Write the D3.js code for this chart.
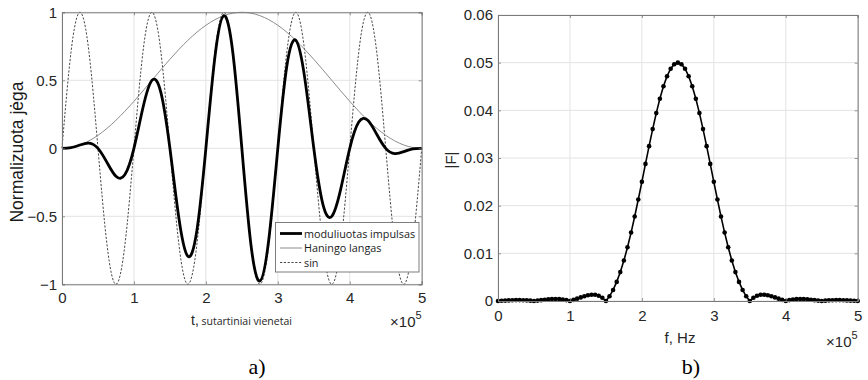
<!DOCTYPE html>
<html>
<head>
<meta charset="utf-8">
<script src="https://cdn.jsdelivr.net/npm/d3@7"></script>
<style>
  html, body { margin: 0; padding: 0; background: #fff; }
  svg { display: block; }
  text { font-family: "Liberation Sans", Arial, Helvetica, sans-serif; }
</style>
</head>
<body>
<svg id="chart" width="868" height="380"></svg>
<script>
// ---------- DATA (panel a): time in units of 1e5 ----------
const tVals = [0, 0.125, 0.25, 0.375, 0.5, 0.625, 0.75, 0.875, 1, 1.125, 1.25, 1.375, 1.5, 1.625, 1.75, 1.875,
  2, 2.125, 2.25, 2.375, 2.5, 2.625, 2.75, 2.875, 3, 3.125, 3.25, 3.375, 3.5, 3.625, 3.75, 3.875,
  4, 4.125, 4.25, 4.375, 4.5, 4.625, 4.75, 4.875, 5];
const sinVals = [0, 0.7071, 1, 0.7071, 0, -0.7071, -1, -0.7071,
  0, 0.7071, 1, 0.7071, 0, -0.7071, -1, -0.7071,
  0, 0.7071, 1, 0.7071, 0, -0.7071, -1, -0.7071,
  0, 0.7071, 1, 0.7071, 0, -0.7071, -1, -0.7071,
  0, 0.7071, 1, 0.7071, 0, -0.7071, -1, -0.7071, 0];
const hannVals = [0, 0.00616, 0.02447, 0.0545, 0.09549, 0.14645, 0.20611, 0.273, 0.34549, 0.42178,
  0.5, 0.57822, 0.65451, 0.727, 0.79389, 0.85355, 0.90451, 0.9455, 0.97553, 0.99384,
  1, 0.99384, 0.97553, 0.9455, 0.90451, 0.85355, 0.79389, 0.727, 0.65451, 0.57822,
  0.5, 0.42178, 0.34549, 0.273, 0.20611, 0.14645, 0.09549, 0.0545, 0.02447, 0.00616, 0];
const pulseVals = [0, 0.00436, 0.02447, 0.03854, 0, -0.10355, -0.20611, -0.19304, 0, 0.29824,
  0.5, 0.40886, 0, -0.51405, -0.79389, -0.60355, 0, 0.66857, 0.97553, 0.70274,
  0, -0.70274, -0.97553, -0.66857, 0, 0.60355, 0.79389, 0.51405, 0, -0.40886,
  -0.5, -0.29824, 0, 0.19304, 0.20611, 0.10355, 0, -0.03854, -0.02447, -0.00436, 0];
const seriesNamesA = ["moduliuotas impulsas", "Haningo langas", "sin"];
const xTicksA = [0, 1, 2, 3, 4, 5];
const yTicksA = [-1, -0.5, 0, 0.5, 1];

// ---------- DATA (panel b): frequency in units of 1e5 Hz ----------
const fVals = [0, 0.05, 0.1, 0.15, 0.2, 0.25, 0.3, 0.35, 0.4, 0.45,
  0.5, 0.55, 0.6, 0.65, 0.7, 0.75, 0.8, 0.85, 0.9, 0.95,
  1, 1.05, 1.1, 1.15, 1.2, 1.25, 1.3, 1.35, 1.4, 1.45,
  1.5, 1.55, 1.6, 1.65, 1.7, 1.75, 1.8, 1.85, 1.9, 1.95,
  2, 2.05, 2.1, 2.15, 2.2, 2.25, 2.3, 2.35, 2.4, 2.45,
  2.5,
  2.55, 2.6, 2.65, 2.7, 2.75, 2.8, 2.85, 2.9, 2.95, 3,
  3.05, 3.1, 3.15, 3.2, 3.25, 3.3, 3.35, 3.4, 3.45, 3.5,
  3.55, 3.6, 3.65, 3.7, 3.75, 3.8, 3.85, 3.9, 3.95, 4,
  4.05, 4.1, 4.15, 4.2, 4.25, 4.3, 4.35, 4.4, 4.45, 4.5,
  4.55, 4.6, 4.65, 4.7, 4.75, 4.8, 4.85, 4.9, 4.95, 5];
const fMag = [0, 0.000044, 0.000089, 0.00013, 0.000163, 0.000184, 0.000188, 0.000171, 0.000134, 0.000076,
  0, 0.000089, 0.000183, 0.000274, 0.000352, 0.000404, 0.000422, 0.000395, 0.000317, 0.000185,
  0, 0.000229, 0.000489, 0.000758, 0.001011, 0.001213, 0.001325, 0.001305, 0.001108, 0.000687,
  0, 0.000992, 0.00232, 0.004008, 0.006065, 0.008489, 0.011263, 0.014355, 0.017718, 0.021291,
  0.025, 0.028761, 0.032483, 0.036067, 0.039418, 0.042442, 0.04505, 0.047165, 0.048724, 0.049679,
  0.05,
  0.049679, 0.048724, 0.047165, 0.04505, 0.042442, 0.039418, 0.036067, 0.032483, 0.028761, 0.025,
  0.021291, 0.017718, 0.014355, 0.011263, 0.008489, 0.006065, 0.004008, 0.00232, 0.000992, 0,
  0.000687, 0.001108, 0.001305, 0.001325, 0.001213, 0.001011, 0.000758, 0.000489, 0.000229, 0,
  0.000185, 0.000317, 0.000395, 0.000422, 0.000404, 0.000352, 0.000274, 0.000183, 0.000089, 0,
  0.000076, 0.000134, 0.000171, 0.000188, 0.000184, 0.000163, 0.00013, 0.000089, 0.000044, 0];
const xTicksB = [0, 1, 2, 3, 4, 5];
const yTicksB = [0, 0.01, 0.02, 0.03, 0.04, 0.05, 0.06];

// ---------- DRAWING ----------
const svg = d3.select("#chart");
const AX = "#262626", GRID = "#e3e3e3", BOX = "#7a7a7a";

function frame(g, x, y, xt, yt) {
  const [x0, x1] = x.range(), [y0, y1] = y.range();
  g.append("g").selectAll("line").data(xt).join("line")
    .attr("x1", d => x(d)).attr("x2", d => x(d)).attr("y1", y0).attr("y2", y1)
    .attr("stroke", GRID).attr("stroke-width", 1);
  g.append("g").selectAll("line").data(yt).join("line")
    .attr("y1", d => y(d)).attr("y2", d => y(d)).attr("x1", x0).attr("x2", x1)
    .attr("stroke", GRID).attr("stroke-width", 1);
}
function axes(g, x, y, xt, yt, yfmt, xLabelDy) {
  const [x0, x1] = x.range(), [y0, y1] = y.range();
  const xa = g.append("g").attr("transform", `translate(0,${y0})`)
    .call(d3.axisBottom(x).tickValues(xt).tickFormat(d3.format("d")).tickSize(-3).tickPadding(xLabelDy));
  const xb = g.append("g").attr("transform", `translate(0,${y1})`)
    .call(d3.axisTop(x).tickValues(xt).tickFormat("").tickSize(-3));
  const ya = g.append("g").attr("transform", `translate(${x0},0)`)
    .call(d3.axisLeft(y).tickValues(yt).tickFormat(yfmt).tickSize(-3).tickPadding(5));
  const yb = g.append("g").attr("transform", `translate(${x1},0)`)
    .call(d3.axisRight(y).tickValues(yt).tickFormat("").tickSize(-3));
  [xa, xb, ya, yb].forEach(a => {
    a.select(".domain").attr("stroke", BOX).attr("stroke-width", 1);
    a.selectAll(".tick line").attr("stroke", BOX).attr("stroke-width", 0.8);
    a.selectAll("text").attr("fill", AX).style("font-size", "15px")
      .style("font-family", "'Liberation Sans', Arial, sans-serif");
  });
}

// ----- Panel a -----
const xA = d3.scaleLinear().domain([0, 5]).range([62, 421.7]);
const yA = d3.scaleLinear().domain([-1, 1]).range([284.3, 12.3]);
const gA = svg.append("g");
frame(gA, xA, yA, xTicksA, yTicksA);

const ptsSin = tVals.map((t, i) => [t, sinVals[i]]);
const ptsHann = tVals.map((t, i) => [t, hannVals[i]]);
const ptsPulse = tVals.map((t, i) => [t, pulseVals[i]]);
const lineA = d3.line().x(d => xA(d[0])).y(d => yA(d[1])).curve(d3.curveNatural);

gA.append("path").datum(ptsSin).attr("d", lineA).attr("fill", "none")
  .attr("stroke", "#333").attr("stroke-width", 0.9).attr("stroke-dasharray", "2.2,1.6");
gA.append("path").datum(ptsHann).attr("d", lineA).attr("fill", "none")
  .attr("stroke", "#8c8c8c").attr("stroke-width", 1);
gA.append("path").datum(ptsPulse).attr("d", lineA).attr("fill", "none")
  .attr("stroke", "#000").attr("stroke-width", 2.8).attr("stroke-linejoin", "round");

axes(gA, xA, yA, xTicksA, yTicksA, d => d3.format("")(d), 8);

// legend
const lg = gA.append("g");
lg.append("rect").attr("x", 275.5).attr("y", 222.5).attr("width", 143.5).attr("height", 49.5)
  .attr("fill", "#fff").attr("stroke", "#707070").attr("stroke-width", 0.9);
const legStyles = [
  { stroke: "#000", w: 2.8, dash: null },
  { stroke: "#8c8c8c", w: 1, dash: null },
  { stroke: "#333", w: 0.9, dash: "2.2,1.6" }
];
const legY = [233.5, 248, 262.5];
seriesNamesA.forEach((name, i) => {
  const l = lg.append("line").attr("x1", 280).attr("x2", 302).attr("y1", legY[i]).attr("y2", legY[i])
    .attr("stroke", legStyles[i].stroke).attr("stroke-width", legStyles[i].w);
  if (legStyles[i].dash) l.attr("stroke-dasharray", legStyles[i].dash);
  lg.append("text").attr("x", 304).attr("y", legY[i] + 4).text(name)
    .style("font-family", "'Open Sans', sans-serif").style("font-size", "10.8px").attr("fill", "#1a1a1a");
});

// axis labels a
const xlA = gA.append("text").attr("x", 191).attr("y", 325).attr("fill", AX);
xlA.append("tspan").text("t,").style("font-size", "14px");
xlA.append("tspan").text(" sutartiniai vienetai").style("font-size", "10.5px")
  .style("font-family", "'Open Sans', sans-serif");
gA.append("text").attr("transform", "translate(23,152) rotate(-90)").attr("text-anchor", "middle")
  .style("font-size", "17.5px").attr("fill", "#1a1a1a").text("Normalizuota jėga");
const expA = gA.append("text").attr("x", 421.7).attr("y", 327).attr("text-anchor", "end").attr("fill", AX)
  .style("font-size", "15px");
expA.append("tspan").text("×10");
expA.append("tspan").text("5").attr("dy", -8).style("font-size", "11px");

// ----- Panel b -----
const xB = d3.scaleLinear().domain([0, 5]).range([498, 857.7]);
const yB = d3.scaleLinear().domain([0, 0.06]).range([301, 15]);
const gB = svg.append("g");
frame(gB, xB, yB, xTicksB, yTicksB);
const ptsF = fVals.map((f, i) => [f, fMag[i]]);
gB.append("path").datum(ptsF)
  .attr("d", d3.line().x(d => xB(d[0])).y(d => yB(d[1])))
  .attr("fill", "none").attr("stroke", "#000").attr("stroke-width", 1.6);
gB.append("g").selectAll("circle").data(ptsF).join("circle")
  .attr("cx", d => xB(d[0])).attr("cy", d => yB(d[1])).attr("r", 2.3).attr("fill", "#000");
axes(gB, xB, yB, xTicksB, yTicksB, d => d === 0 ? "0" : d3.format(".2f")(d), 9);

gB.append("text").attr("x", 680).attr("y", 343).attr("text-anchor", "middle").attr("fill", AX)
  .style("font-size", "15px").text("f, Hz");
gB.append("text").attr("transform", "translate(456,160) rotate(-90)").attr("text-anchor", "middle")
  .attr("fill", AX).style("font-size", "15px").text("|F|");
const expB = gB.append("text").attr("x", 857.7).attr("y", 347).attr("text-anchor", "end").attr("fill", AX)
  .style("font-size", "15px");
expB.append("tspan").text("×10");
expB.append("tspan").text("5").attr("dy", -8).style("font-size", "11px");

// panel captions
svg.append("text").attr("x", 257).attr("y", 374).attr("text-anchor", "middle")
  .style("font-family", "'Liberation Serif', 'Times New Roman', serif").style("font-size", "22px")
  .attr("fill", "#000").text("a)");
svg.append("text").attr("x", 691).attr("y", 374).attr("text-anchor", "middle")
  .style("font-family", "'Liberation Serif', 'Times New Roman', serif").style("font-size", "22px")
  .attr("fill", "#000").text("b)");
</script>
</body>
</html>
